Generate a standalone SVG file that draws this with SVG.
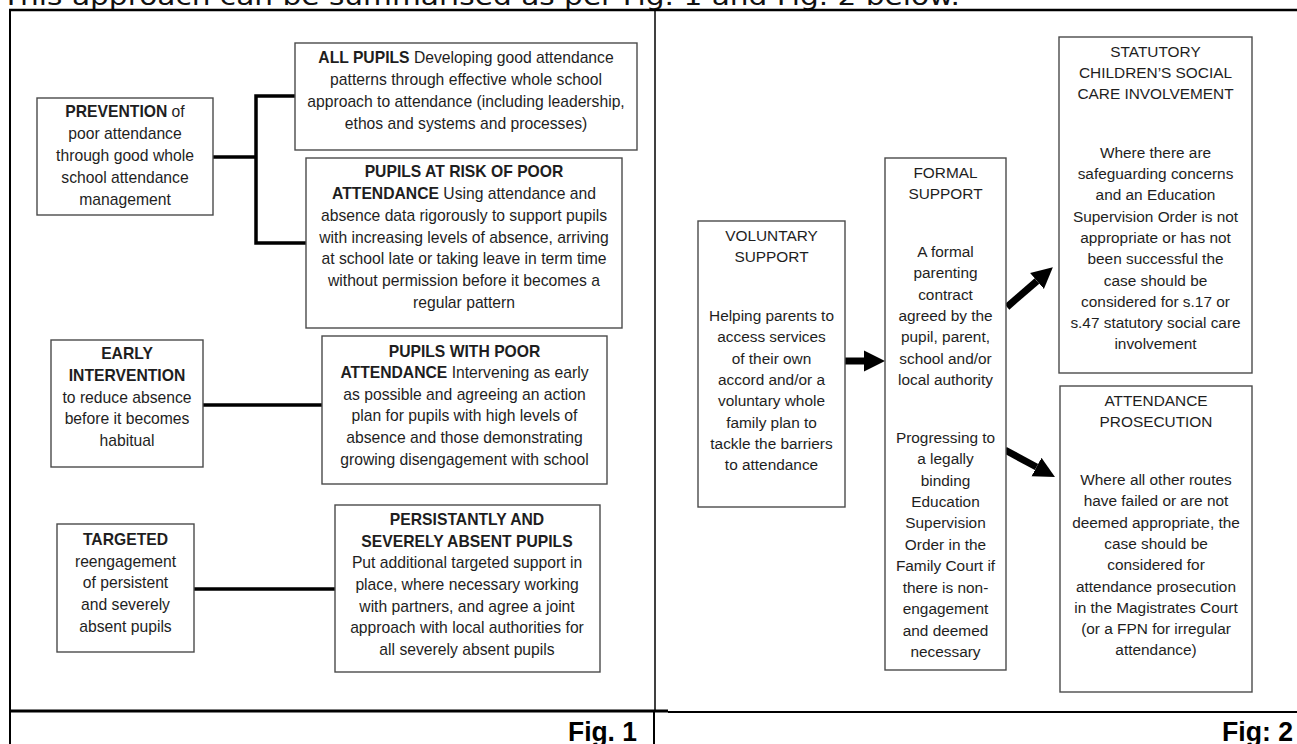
<svg xmlns="http://www.w3.org/2000/svg" width="1297" height="744" viewBox="0 0 1297 744">
<style>
.box{fill:#fff;stroke:#4a4a4a;stroke-width:1.4}
.t{font-family:"Liberation Sans",Arial,sans-serif;font-size:15.7px;fill:#1e1e1e;text-anchor:middle}
.r{font-size:15.4px}
.b{font-weight:bold}
.conn{stroke:#000;stroke-width:3.5;fill:none}
.arr{stroke:#000;stroke-width:7;fill:none}
.frame{stroke:#000;fill:none}
</style>
<defs>
<marker id="head" viewBox="0 0 10 10" refX="0" refY="5" markerWidth="3" markerHeight="3.2" orient="auto" markerUnits="strokeWidth">
<path d="M0,0 L10,5 L0,10 z" fill="#000"/>
</marker>
</defs>
<rect x="0" y="0" width="1297" height="744" fill="#fff"/>
<text x="2" y="5" font-family="'DejaVu Sans',sans-serif" font-size="24" fill="#111" textLength="958" lengthAdjust="spacingAndGlyphs">This approach can be summarised as per Fig. 1 and Fig. 2 below.</text>
<g id="frame">
<line class="frame" x1="9" y1="10" x2="1297" y2="10" stroke-width="2.5"/>
<line class="frame" x1="10" y1="9" x2="10" y2="744" stroke-width="2"/>
<line class="frame" x1="655" y1="10" x2="655" y2="711" stroke-width="1.5"/>
<line class="frame" x1="654" y1="711" x2="654" y2="744" stroke-width="2"/>
<line class="frame" x1="10" y1="711" x2="668" y2="711" stroke-width="3"/>
<line class="frame" x1="668" y1="712" x2="1297" y2="712" stroke-width="2"/>
</g>
<g id="connectors">
<polyline class="conn" points="213,157 256,157"/>
<polyline class="conn" points="295,96 256,96 256,243 306,243"/>
<line class="conn" x1="203" y1="405" x2="322" y2="405"/>
<line class="conn" x1="194" y1="589" x2="335" y2="589"/>
<line class="arr" x1="845" y1="361" x2="864" y2="361" marker-end="url(#head)"/>
<line class="arr" x1="1007" y1="307" x2="1037" y2="281" marker-end="url(#head)"/>
<line class="arr" x1="1005" y1="450" x2="1036.5" y2="467" marker-end="url(#head)"/>
</g>
<g id="prevention">
<rect class="box" x="37" y="98" width="176" height="117"/>
<text class="t"><tspan x="125" y="117"><tspan class="b">PREVENTION</tspan> of</tspan><tspan x="125" y="139">poor attendance</tspan><tspan x="125" y="161">through good whole</tspan><tspan x="125" y="183">school attendance</tspan><tspan x="125" y="205">management</tspan></text>
</g>
<g id="all-pupils">
<rect class="box" x="295" y="43" width="342" height="107"/>
<text class="t"><tspan x="466" y="63"><tspan class="b">ALL PUPILS</tspan> Developing good attendance</tspan><tspan x="466" y="85">patterns through effective whole school</tspan><tspan x="466" y="107">approach to attendance (including leadership,</tspan><tspan x="466" y="129">ethos and systems and processes)</tspan></text>
</g>
<g id="at-risk">
<rect class="box" x="306" y="158" width="316" height="170"/>
<text class="t"><tspan x="464" y="177" class="b">PUPILS AT RISK OF POOR</tspan><tspan x="464" y="199"><tspan class="b">ATTENDANCE</tspan> Using attendance and</tspan><tspan x="464" y="221">absence data rigorously to support pupils</tspan><tspan x="464" y="243">with increasing levels of absence, arriving</tspan><tspan x="464" y="264">at school late or taking leave in term time</tspan><tspan x="464" y="286">without permission before it becomes a</tspan><tspan x="464" y="308">regular pattern</tspan></text>
</g>
<g id="early-intervention">
<rect class="box" x="51" y="340" width="152" height="127"/>
<text class="t"><tspan x="127" y="359" class="b">EARLY</tspan><tspan x="127" y="381" class="b">INTERVENTION</tspan><tspan x="127" y="403">to reduce absence</tspan><tspan x="127" y="424">before it becomes</tspan><tspan x="127" y="446">habitual</tspan></text>
</g>
<g id="poor-attendance">
<rect class="box" x="322" y="336" width="285" height="148"/>
<text class="t"><tspan x="464.5" y="357" class="b">PUPILS WITH POOR</tspan><tspan x="464.5" y="378"><tspan class="b">ATTENDANCE</tspan> Intervening as early</tspan><tspan x="464.5" y="400">as possible and agreeing an action</tspan><tspan x="464.5" y="421">plan for pupils with high levels of</tspan><tspan x="464.5" y="443">absence and those demonstrating</tspan><tspan x="464.5" y="465">growing disengagement with school</tspan></text>
</g>
<g id="targeted">
<rect class="box" x="57" y="524" width="137" height="128"/>
<text class="t"><tspan x="125.5" y="545" class="b">TARGETED</tspan><tspan x="125.5" y="567">reengagement</tspan><tspan x="125.5" y="588">of persistent</tspan><tspan x="125.5" y="610">and severely</tspan><tspan x="125.5" y="632">absent pupils</tspan></text>
</g>
<g id="persistent">
<rect class="box" x="335" y="505" width="265" height="167"/>
<text class="t"><tspan x="467" y="525" class="b">PERSISTANTLY AND</tspan><tspan x="467" y="547" class="b">SEVERELY ABSENT PUPILS</tspan><tspan x="467" y="568">Put additional targeted support in</tspan><tspan x="467" y="590">place, where necessary working</tspan><tspan x="467" y="612">with partners, and agree a joint</tspan><tspan x="467" y="633">approach with local authorities for</tspan><tspan x="467" y="655">all severely absent pupils</tspan></text>
</g>
<g id="voluntary">
<rect class="box" x="698" y="221" width="147" height="286"/>
<text class="t r"><tspan x="771.5" y="241">VOLUNTARY</tspan><tspan x="771.5" y="262">SUPPORT</tspan><tspan x="771.5" y="321">Helping parents to</tspan><tspan x="771.5" y="342">access services</tspan><tspan x="771.5" y="364">of their own</tspan><tspan x="771.5" y="385">accord and/or a</tspan><tspan x="771.5" y="406">voluntary whole</tspan><tspan x="771.5" y="428">family plan to</tspan><tspan x="771.5" y="449">tackle the barriers</tspan><tspan x="771.5" y="470">to attendance</tspan></text>
</g>
<g id="formal">
<rect class="box" x="885" y="158" width="121" height="512"/>
<text class="t r"><tspan x="945.5" y="178">FORMAL</tspan><tspan x="945.5" y="199">SUPPORT</tspan><tspan x="945.5" y="257">A formal</tspan><tspan x="945.5" y="278">parenting</tspan><tspan x="945.5" y="300">contract</tspan><tspan x="945.5" y="321">agreed by the</tspan><tspan x="945.5" y="342">pupil, parent,</tspan><tspan x="945.5" y="364">school and/or</tspan><tspan x="945.5" y="385">local authority</tspan><tspan x="945.5" y="443">Progressing to</tspan><tspan x="945.5" y="464">a legally</tspan><tspan x="945.5" y="486">binding</tspan><tspan x="945.5" y="507">Education</tspan><tspan x="945.5" y="528">Supervision</tspan><tspan x="945.5" y="550">Order in the</tspan><tspan x="945.5" y="571">Family Court if</tspan><tspan x="945.5" y="593">there is non-</tspan><tspan x="945.5" y="614">engagement</tspan><tspan x="945.5" y="636">and deemed</tspan><tspan x="945.5" y="657">necessary</tspan></text>
</g>
<g id="statutory">
<rect class="box" x="1059" y="37" width="193" height="336"/>
<text class="t r"><tspan x="1155.5" y="57">STATUTORY</tspan><tspan x="1155.5" y="78">CHILDREN’S SOCIAL</tspan><tspan x="1155.5" y="99">CARE INVOLVEMENT</tspan><tspan x="1155.5" y="158">Where there are</tspan><tspan x="1155.5" y="179">safeguarding concerns</tspan><tspan x="1155.5" y="200">and an Education</tspan><tspan x="1155.5" y="222">Supervision Order is not</tspan><tspan x="1155.5" y="243">appropriate or has not</tspan><tspan x="1155.5" y="264">been successful the</tspan><tspan x="1155.5" y="286">case should be</tspan><tspan x="1155.5" y="307">considered for s.17 or</tspan><tspan x="1155.5" y="328">s.47 statutory social care</tspan><tspan x="1155.5" y="349">involvement</tspan></text>
</g>
<g id="prosecution">
<rect class="box" x="1060" y="386" width="192" height="306"/>
<text class="t r"><tspan x="1156" y="406">ATTENDANCE</tspan><tspan x="1156" y="427">PROSECUTION</tspan><tspan x="1156" y="485">Where all other routes</tspan><tspan x="1156" y="506">have failed or are not</tspan><tspan x="1156" y="528">deemed appropriate, the</tspan><tspan x="1156" y="549">case should be</tspan><tspan x="1156" y="570">considered for</tspan><tspan x="1156" y="592">attendance prosecution</tspan><tspan x="1156" y="613">in the Magistrates Court</tspan><tspan x="1156" y="634">(or a FPN for irregular</tspan><tspan x="1156" y="655">attendance)</tspan></text>
</g>
<text x="637" y="741" font-family="'Liberation Sans',Arial,sans-serif" font-weight="bold" font-size="27" fill="#000" text-anchor="end" textLength="69" lengthAdjust="spacingAndGlyphs">Fig. 1</text>
<text x="1293" y="741" font-family="'Liberation Sans',Arial,sans-serif" font-weight="bold" font-size="27" fill="#000" text-anchor="end" textLength="71" lengthAdjust="spacingAndGlyphs">Fig: 2</text>
</svg>
